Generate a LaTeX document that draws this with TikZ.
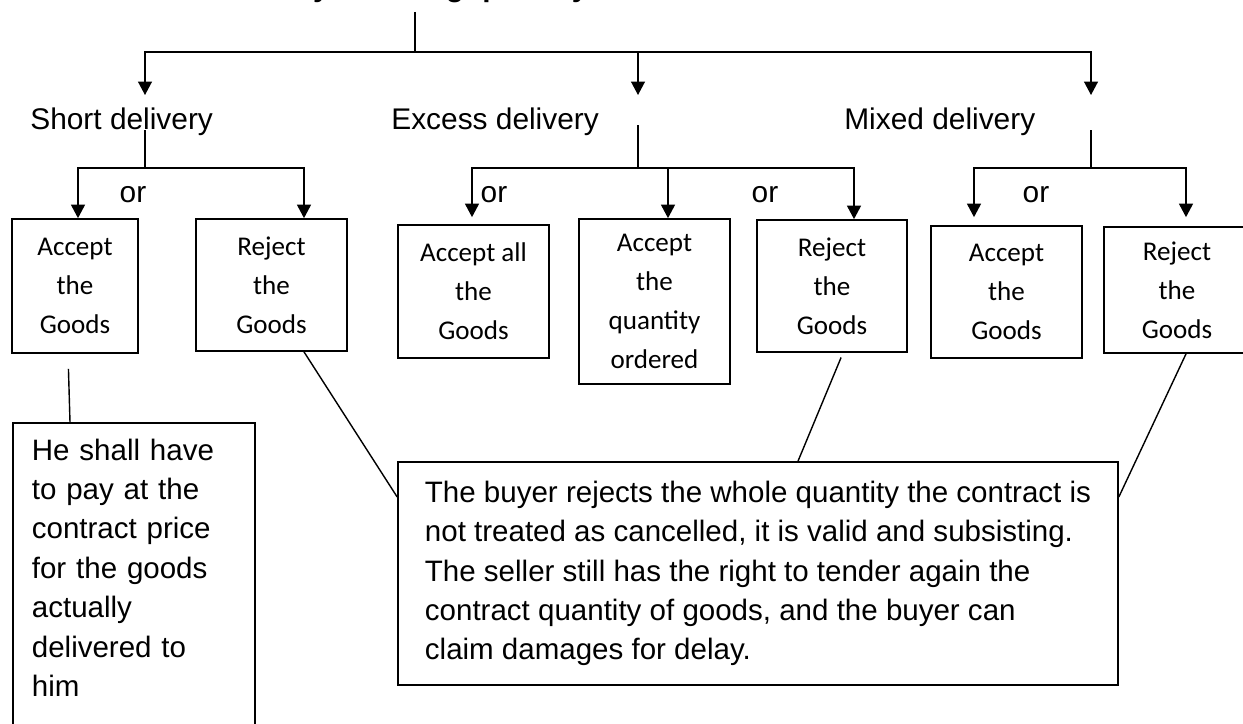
\documentclass[tikz,border=0pt]{standalone}
\usepackage{fontspec}
\setmainfont{Liberation Sans}
\newfontfamily\calibri{Carlito}
\usetikzlibrary{arrows.meta}

\tikzset{
  lbl/.style={font=\fontsize{17}{22.5}\selectfont, inner sep=0},
  choice/.style={draw, line width=1pt, align=center, inner sep=0,
    font=\calibri\fontsize{15.4}{22.2}\selectfont,
    minimum width=3.02cm, minimum height=2.64cm},
  remark/.style={draw, line width=1pt, align=left, inner ysep=0.32cm,
    font=\fontsize{16.8}{22.4}\selectfont},
  link/.style={line width=0.8pt},
  arr/.style={link, -{Triangle[length=2.7mm,width=2.8mm]}},
}

\begin{document}
\begin{tikzpicture}[x=0.02cm, y=-0.02cm]
\useasboundingbox (0,0) rectangle (1243,723);
% heading, cut off by the page edge
\node[lbl, font=\bfseries\fontsize{17}{22.5}\selectfont, anchor=base] (title) at (401,-3) {Delivery of wrong quantity};
\node[lbl, anchor=base west] (short) at (30,130) {Short delivery};
\node[lbl, anchor=base west] (excess) at (391,130) {Excess delivery};
\node[lbl, anchor=base west] (mixed) at (844,130) {Mixed delivery};
\node[lbl, anchor=base] (or1) at (133,202) {or};
\node[lbl, anchor=base] (or2) at (494,202) {or};
\node[lbl, anchor=base] (or3) at (765,202) {or};
\node[lbl, anchor=base] (or4) at (1036,202) {or};
% choices
\node[choice, minimum width=2.52cm, minimum height=2.68cm] (acc1) at (75,286) {Accept\\the\\Goods};
\node[choice] (rej1) at (271.5,285) {Reject\\the\\Goods};
\node[choice, minimum height=2.66cm] (acc2) at (473.5,291.5) {Accept all\\the\\Goods};
\node[choice, minimum height=3.3cm] (acc3) at (654.5,301.5) {Accept\\the\\quantity\\ordered};
\node[choice, minimum width=3cm] (rej2) at (832,286) {Reject\\the\\Goods};
\node[choice] (acc4) at (1006.5,292) {Accept\\the\\Goods};
\node[choice, minimum width=2.92cm, minimum height=2.52cm] (rej3) at (1177,290) {Reject\\the\\Goods};
% remarks
\node[remark, anchor=north west, text width=4.08cm, inner xsep=0.38cm] (pay) at (12,422)
  {He shall have\\to pay at the\\contract price\\for the goods\\actually\\delivered to\\him\\[1.5cm]\mbox{}};
\node[remark, minimum width=14.4cm, minimum height=4.46cm] (big) at (758,573.5)
  {The buyer rejects the whole quantity the contract is\\not treated as cancelled, it is valid and subsisting.\\The seller still has the right to tender again the\\contract quantity of goods, and the buyer can\\claim damages for delay.};

% top level
\coordinate (top) at (415,12);
\coordinate (fork) at (415,52);
\draw[link] (top) -- (fork);
\draw[arr, shorten >=0.26cm] (fork) -| (short.north -| 145,0);
\draw[arr, shorten >=0.26cm] (fork) -| (excess.north -| 638,0);
\draw[arr, shorten >=0.26cm] (fork) -| (mixed.north -| 1091,0);

% short delivery
\coordinate (forkS) at (145,168);
\draw[link] (short.base -| forkS) -- (forkS);
\draw[arr] (forkS) -| (acc1.north -| 78,0);
\draw[arr] (forkS) -| (rej1.north -| 304,0);

% excess delivery
\coordinate (forkE) at (638,168);
\draw[link] (excess.mid -| forkE) -- (forkE);
\draw[arr, shorten >=0.14cm] (forkE) -| (acc2.north -| 472,0);
\draw[arr] (forkE) -| (acc3.north -| 668,0);
\draw[arr] (forkE) -| (rej2.north -| 854,0);

% mixed delivery
\coordinate (forkM) at (1091,168);
\draw[link] (mixed.base -| forkM) -- (forkM);
\draw[arr, shorten >=0.16cm] (forkM) -| (acc4.north -| 974,0);
\draw[arr, shorten >=0.18cm] (forkM) -| (rej3.north -| 1186,0);

% consequences
\draw[link, shorten <=0.3cm] (acc1.south -| 68,0) -- (pay.north -| 70,0);
\draw[link] (rej1.south -| 304,0) -- (big.north west |- 0,497);
\draw[link, shorten <=0.1cm] (rej2.south -| 843,0) -- (big.north -| 798,0);
\draw[link] (rej3.south -| 1186,0) -- (big.north east |- 0,497);
\end{tikzpicture}
\end{document}
